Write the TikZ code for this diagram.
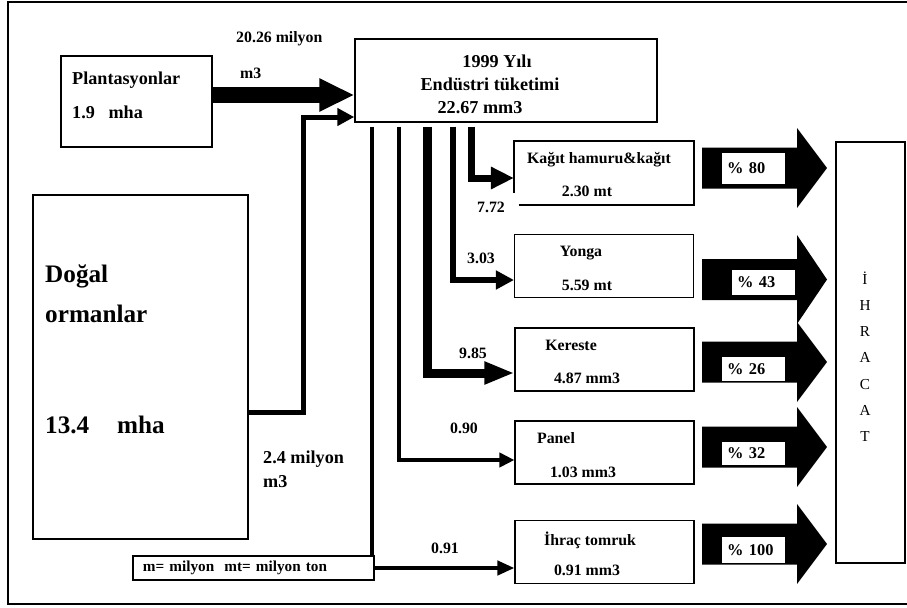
\documentclass[tikz,border=0pt]{standalone}
\usepackage{fontspec}
\setmainfont{Liberation Serif}
\usetikzlibrary{arrows.meta}

\begin{document}
\begin{tikzpicture}[x=0.03cm, y=-0.03cm,
  kutu/.style={draw, line width=1.2pt, inner sep=0pt},
  sagkutu/.style={kutu, minimum width=5.36cm, minimum height=1.88cm},
  yazi/.style={font=\bfseries\fontsize{13.5}{16}\selectfont, inner sep=0pt},
  buyuk/.style={font=\bfseries\fontsize{15.5}{18}\selectfont, inner sep=0pt},
  dev/.style={font=\bfseries\fontsize{21.5}{25}\selectfont, inner sep=0pt},
  akis/.style={line join=miter},
  yuzde/.style={fill=white, inner xsep=0.15cm, inner ysep=0pt, text width=1.59cm,
                align=left, minimum height=0.75cm, font=\bfseries\fontsize{14}{16}\selectfont}]

\useasboundingbox (0,0) rectangle (907,607);
\draw[line width=2.5pt] (915,2) -| (8,604) -- (915,604);

% kaynaklar
\node[kutu, minimum width=4.53cm, minimum height=2.73cm] (plant) at (136.5,101.5) {};
\node[buyuk, anchor=west] (plantad) at (72,80) {Plantasyonlar};
\node[buyuk, anchor=west] (plantha) at (72,112) {1.9~~~mha};

\node[kutu, minimum width=6.45cm, minimum height=10.32cm] (dogal) at (140.5,367) {};
\node[dev, anchor=west] (dogalad) at (45,276) {Doğal};
\node[dev, anchor=west] (dogalad2) at (45,314) {ormanlar};
\node[dev, anchor=west] (dogalha) at (45,425) {13.4\hspace{1.1em}mha};

% endustri tuketimi
\node[kutu, minimum width=9.06cm, minimum height=2.49cm] (endustri) at (506,80.5) {};
\node[buyuk] (yil) at (497,61) {1999 Yılı};
\node[buyuk] (tuketim) at (490,84) {Endüstri tüketimi};
\node[buyuk] (toplam) at (480,108) {22.67 mm3};

\node[yazi, anchor=west] (plantmik) at (236,39) {20.26 milyon};
\node[yazi, anchor=west] (plantbir) at (240,73) {m3};
\node[buyuk, anchor=west] (dogalmik) at (263,459) {2.4 milyon};
\node[buyuk, anchor=west] (dogalbir) at (263,482) {m3};

\draw[akis, line width=0.48cm, -{Triangle[length=1.05cm, width=0.93cm]}]
  (plant.east |- 0,95) -- (endustri.west |- 0,95);
\draw[akis, line width=0.15cm, -{Triangle[length=0.51cm, width=0.51cm]}]
  (dogal.east |- 0,412) -| (303,117) -- (endustri.west |- 0,117);

% urunler
\node[sagkutu, draw=none] (kagit) at (604,173) {};
\draw[line width=1.2pt] ([xshift=4.3pt]kagit.south west) -- (kagit.south east)
  -- (kagit.north east) -- (kagit.north west) -- ([yshift=10pt]kagit.south west);
\node[yazi] (kagitad) at (599,160) {Kağıt hamuru\&kağıt};
\node[yazi] (kagitmik) at (587,191) {2.30 mt};

\node[sagkutu] (yonga) at (604,266) {};
\node[yazi] (yongaad) at (581,253) {Yonga};
\node[yazi] (yongamik) at (587,285) {5.59 mt};

\node[sagkutu] (kereste) at (604.5,359.5) {};
\node[yazi] (kerestead) at (571,345) {Kereste};
\node[yazi] (berestemik) at (587,378) {4.87 mm3};

\node[sagkutu] (panel) at (604.5,452.5) {};
\node[yazi] (panelad) at (556,438) {Panel};
\node[yazi] (panelmik) at (583,472) {1.03 mm3};

\node[sagkutu] (tomruk) at (604.5,552) {};
\node[yazi] (tomrukad) at (590,540) {İhraç tomruk};
\node[yazi] (tomrukmik) at (587,570) {0.91 mm3};

% dagilim
\draw[akis, line width=0.21cm, -{Triangle[length=0.69cm, width=0.63cm]}]
  ([yshift=-3.4pt]endustri.south -| 471,0) |- (kagit.west |- 0,178);
\draw[akis, line width=0.18cm, -{Triangle[length=0.54cm, width=0.54cm]}]
  ([yshift=-3.4pt]endustri.south -| 453,0) |- (yonga.west |- 0,280);
\draw[akis, line width=0.27cm, -{Triangle[length=0.9cm, width=0.63cm]}]
  ([yshift=-3.4pt]endustri.south -| 427,0) |- (kereste.west |- 0,373);
\draw[akis, line width=0.12cm, -{Triangle[length=0.45cm, width=0.42cm]}]
  ([yshift=-3.4pt]endustri.south -| 399,0) |- (panel.west |- 0,460);
\draw[akis, line width=0.12cm, -{Triangle[length=0.51cm, width=0.42cm]}]
  ([yshift=-3.4pt]endustri.south -| 372,0) |- (tomruk.west |- 0,568);

\node[yazi] (e772) at (491,207) {7.72};
\node[yazi] (e303) at (481,258) {3.03};
\node[yazi] (e985) at (473,353) {9.85};
\node[yazi] (e090) at (464,428) {0.90};
\node[yazi] (e091) at (445,548) {0.91};

\node[kutu, fill=white, minimum width=7.23cm, minimum height=0.72cm, text width=6.63cm,
      inner xsep=0.3cm, align=left, font=\bfseries\fontsize{13}{15}\selectfont]
  (birim) at (253.5,568) {m= milyon~~mt= milyon ton};

% ihracat
\foreach \ty/\hh in {168/40, 279.5/44.5, 362/40, 447/40, 544/40}
  \fill (702,\ty-20.5) -- (797,\ty-20.5) -- (797,\ty-\hh) -- (827,\ty)
    -- (797,\ty+\hh) -- (797,\ty+20.5) -- (702,\ty+20.5) -- cycle;

\node[yuzde, minimum height=0.93cm] (y80) at (753.5,168.5) {\% 80};
\node[yuzde] (y43) at (763.5,282.5) {\% 43};
\node[yuzde, minimum height=0.72cm] (y26) at (753.5,369) {\% 26};
\node[yuzde, minimum height=0.69cm] (y32) at (753.5,453.5) {\% 32};
\node[yuzde, minimum height=0.78cm] (y100) at (753.5,550) {\% 100};

\node[kutu, minimum width=2.07cm, minimum height=12.63cm] (ihracat) at (870.5,352.5) {};
\node[font=\fontsize{13}{22.4}\selectfont, align=center, inner sep=0pt] (harfler)
  at (865,356.5) {İ\\H\\R\\A\\C\\A\\T};
\end{tikzpicture}
\end{document}
